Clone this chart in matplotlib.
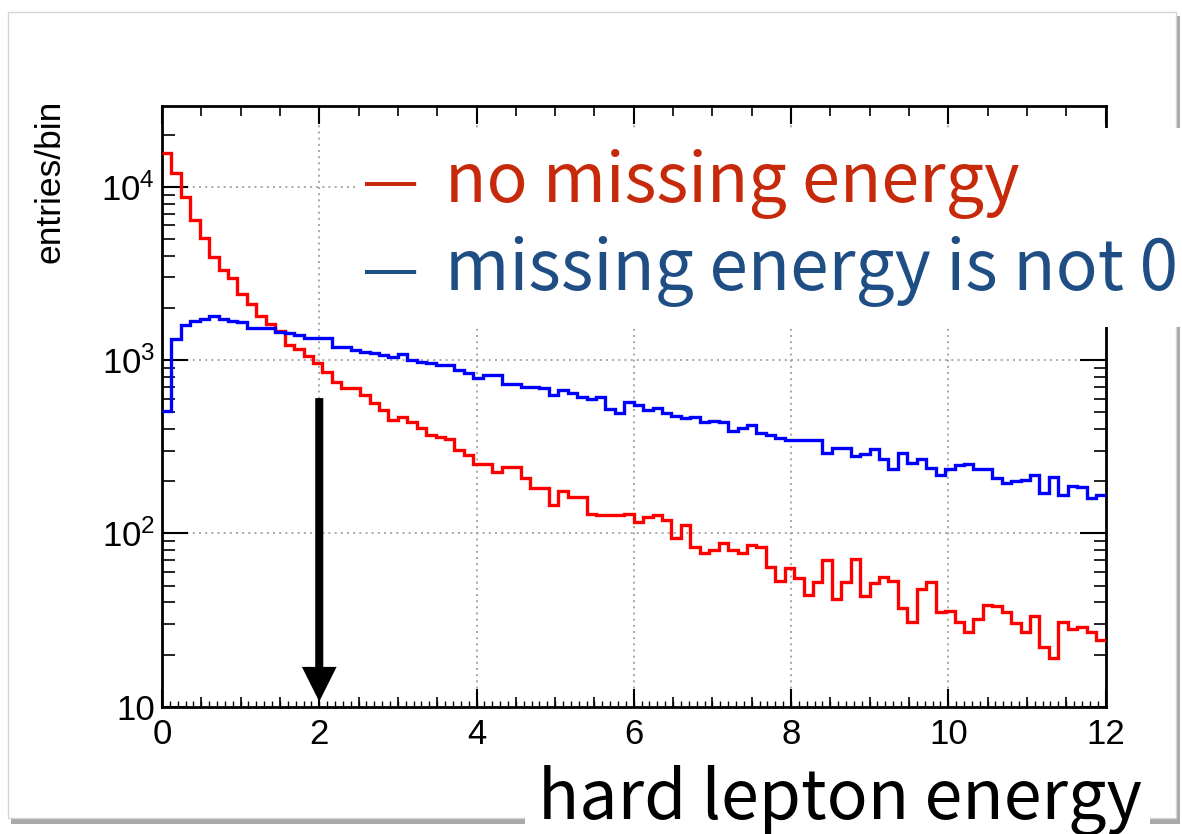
import numpy as np
import matplotlib
matplotlib.use('Agg')
import matplotlib.pyplot as plt
from matplotlib.patches import Rectangle
from matplotlib.ticker import MultipleLocator, LogLocator, NullFormatter

plt.rcParams['font.family'] = ['Liberation Sans', 'DejaVu Sans']
plt.rcParams['mathtext.fontset'] = 'custom'
plt.rcParams['mathtext.rm'] = 'Liberation Sans'
plt.rcParams['mathtext.it'] = 'Liberation Sans:italic'

# 100 bins between 0 and 12
bin_edges = np.linspace(0, 12, 101)

no_missing = [15700, 12000, 8700, 6450, 5070, 3950, 3330, 2970, 2410, 2110,
              1790, 1610, 1480, 1220, 1160, 1060, 960, 850, 750, 690,
              690, 630, 565, 515, 450, 470, 440, 405, 370, 360,
              352, 303, 284, 252, 252, 225, 243, 243, 208, 184,
              184, 145, 176, 163, 163, 130, 127, 127, 127, 130,
              117, 125, 128, 119, 94, 112, 84, 77, 80, 88,
              80, 77, 86, 84, 64, 53, 63, 55, 44, 52.6,
              70, 42, 52.6, 71, 43.5, 51.5, 56, 53, 37, 31,
              47.5, 52.6, 35, 35.5, 31, 27, 32, 38.6, 38, 35.3,
              30.3, 27, 33.5, 22.2, 19.2, 31, 28.2, 29, 27, 24.3]

missing_not0 = [511, 1325, 1600, 1680, 1725, 1800, 1725, 1680, 1660, 1540,
                1540, 1540, 1460, 1430, 1400, 1346, 1346, 1350, 1194, 1194,
                1143, 1118, 1094, 1070, 1037, 1084, 1002, 979, 966, 937,
                937, 878, 846, 790, 820, 820, 724, 724, 703, 703,
                688, 629, 672, 649, 615, 594, 610, 520, 497, 576,
                551, 515, 527, 497, 476, 461, 471, 437, 447, 441,
                390, 404, 422, 378, 370, 357, 346, 346, 346, 346,
                293, 312, 310, 280, 287, 306, 270, 235, 291, 256,
                268, 240, 216, 235, 248, 252, 235, 235, 208, 196,
                200, 203, 217, 172, 211, 166, 187, 186, 160, 167]

cut_energy = 2
x_ticks = [0, 2, 4, 6, 8, 10, 12]
y_ticks = [10, 100, 1000, 10000]
y_tick_labels = ['10', r'$\mathregular{10^{2}}$', r'$\mathregular{10^{3}}$', r'$\mathregular{10^{4}}$']

W, H = 1182, 834
fig = plt.figure(figsize=(W / 100, H / 100), dpi=100)


def box(x0, y0, x1, y1, **kw):
    # rectangle given in pixel coords measured from the top-left corner
    r = Rectangle((x0 / W, 1 - y1 / H), (x1 - x0) / W, (y1 - y0) / H,
                  transform=fig.transFigure, **kw)
    fig.add_artist(r)
    return r


# slide frame with a little shadow
box(11, 16, 1180, 824, facecolor='#a9a9a9', edgecolor='none', zorder=-3)
box(8, 12, 1176, 818, facecolor='white', edgecolor='#d6d6d6', lw=1, zorder=-2)

ax = fig.add_axes([162 / W, 1 - 706.7 / H, (1105.5 - 162) / W, (706.7 - 106) / H])
ax.stairs(no_missing, bin_edges, color='#ff0000', lw=2.4, baseline=None, zorder=3)
ax.stairs(missing_not0, bin_edges, color='#0000ff', lw=2.4, baseline=None, zorder=3)

ax.set_yscale('log')
ax.set_xlim(0, 12)
ax.set_ylim(10, 2.93e4)
ax.set_xticks(x_ticks, labels=[str(t) for t in x_ticks])
ax.xaxis.set_minor_locator(MultipleLocator(0.5))
ax.set_yticks(y_ticks, labels=y_tick_labels)
ax.yaxis.set_minor_locator(LogLocator(base=10, subs=np.arange(2, 10)))
ax.yaxis.set_minor_formatter(NullFormatter())

ax.tick_params(which='both', direction='in', top=True, right=True, labelsize=25)
ax.tick_params(axis='x', which='major', length=13, width=1.5, pad=8)
ax.tick_params(axis='x', which='minor', length=7, width=1.2)
ax.tick_params(axis='y', which='major', length=19, width=1.5, pad=5)
ax.tick_params(axis='y', which='minor', length=9, width=1.2)
for s in ax.spines.values():
    s.set_linewidth(2)

# tiny 0.1 ticks on the bottom axis
sec = ax.secondary_xaxis('bottom')
sec.set_xticks(np.arange(0, 12.001, 0.1))
sec.tick_params(direction='in', length=4, width=1, labelbottom=False)
sec.spines['bottom'].set_visible(False)

ax.grid(True, which='major', color='#9a9a9a', linestyle=(0, (1.2, 2.5)), linewidth=1.2)

ax.annotate('', xy=(cut_energy, 10.7), xytext=(cut_energy, 604),
            arrowprops=dict(facecolor='black', edgecolor='none', width=5.8,
                            headwidth=25, headlength=25, shrink=0), zorder=4)

fig.text(50 / W, 1 - 100 / H, 'entries/bin', rotation=90, ha='center', va='top', fontsize=25.5)

# legend pasted on top of the plot
kfont = ['Noto Sans CJK KR', 'DejaVu Sans']
red_txt, blue_txt = '#c7290b', '#1f4e85'
box(355, 128, 1182, 327, facecolor='white', edgecolor='none', zorder=5)
fig.text(362 / W, 1 - 202 / H, '\u2014', color=red_txt, fontsize=46, family=kfont,
         va='baseline', zorder=6)
fig.text(445 / W, 1 - 202 / H, 'no missing energy', color=red_txt,
         fontsize=49, family=kfont, va='baseline', zorder=6)
fig.text(362 / W, 1 - 290 / H, '\u2014', color=blue_txt, fontsize=46, family=kfont,
         va='baseline', zorder=6)
fig.text(445 / W, 1 - 290 / H, 'missing energy is not 0', color=blue_txt,
         fontsize=50, family=kfont, va='baseline', zorder=6)

box(525, 768, 1150, 834, facecolor='white', edgecolor='none', zorder=5)
fig.text(538 / W, 1 - 819 / H, 'hard lepton energy', color='black',
         fontsize=49, family=kfont, va='baseline', zorder=6)

fig.savefig('out.png', dpi=100)
